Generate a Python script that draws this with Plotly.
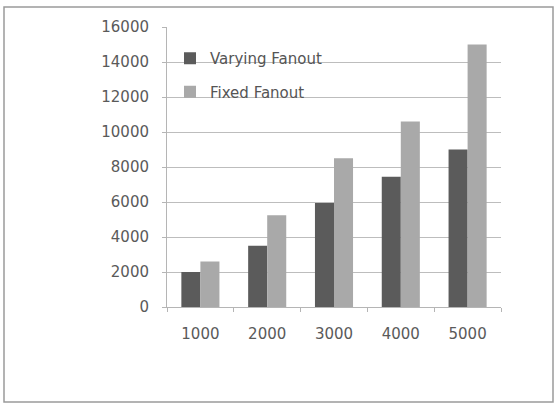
import plotly.graph_objects as go

categories = ["1000", "2000", "3000", "4000", "5000"]
varying_fanout = [2000, 3500, 5950, 7450, 9000]
fixed_fanout = [2600, 5250, 8500, 10600, 15000]

W, H = 557, 406
ML, MR, MT, MB = 167, 56, 27, 99
pw, ph = W - ML - MR, H - MT - MB

def px_x(x):
    return (x - ML) / pw

def px_y(y):
    return (H - MB - y) / ph

fig = go.Figure()
fig.add_trace(go.Bar(name="Varying Fanout", x=categories, y=varying_fanout,
                     marker=dict(color="#5b5b5b", line=dict(width=0)),
                     legendgroup="a"))
fig.add_trace(go.Bar(name="Fixed Fanout", x=categories, y=fixed_fanout,
                     marker=dict(color="#a9a9a9", line=dict(width=0)),
                     legendgroup="b"))

font = dict(family="DejaVu Sans", size=15, color="#5a5a5a")

fig.update_layout(
    width=W, height=H,
    margin=dict(l=ML, r=MR, t=MT, b=MB),
    paper_bgcolor="white", plot_bgcolor="white",
    barmode="group", bargap=0.43, bargroupgap=0,
    font=font,
    showlegend=True,
    legend=dict(x=px_x(170), y=px_y(42), xanchor="left", yanchor="top",
                bgcolor="rgba(0,0,0,0)", font=dict(family="DejaVu Sans", size=15, color="#555555"),
                tracegroupgap=11, itemwidth=30),
    xaxis=dict(showline=True, linecolor="#b5b5b5", linewidth=1,
               ticks="outside", tickson="boundaries", ticklen=4, tickcolor="#b5b5b5",
               tickfont=font, showgrid=False, ticklabelstandoff=13),
    yaxis=dict(range=[0, 16000], dtick=2000, tickformat="d", showline=True,
               linecolor="#b5b5b5", linewidth=1, ticks="outside", ticklen=4,
               tickcolor="#b5b5b5", showgrid=True, gridcolor="#bdbdbd", gridwidth=1.3,
               tickfont=font, zeroline=False, ticklabelstandoff=10),
    shapes=[dict(type="rect", xref="paper", yref="paper",
                 x0=px_x(4), x1=px_x(553), y0=px_y(402), y1=px_y(7),
                 line=dict(color="#9a9a9a", width=1.5), layer="below")],
)

fig.write_html("out.html")
